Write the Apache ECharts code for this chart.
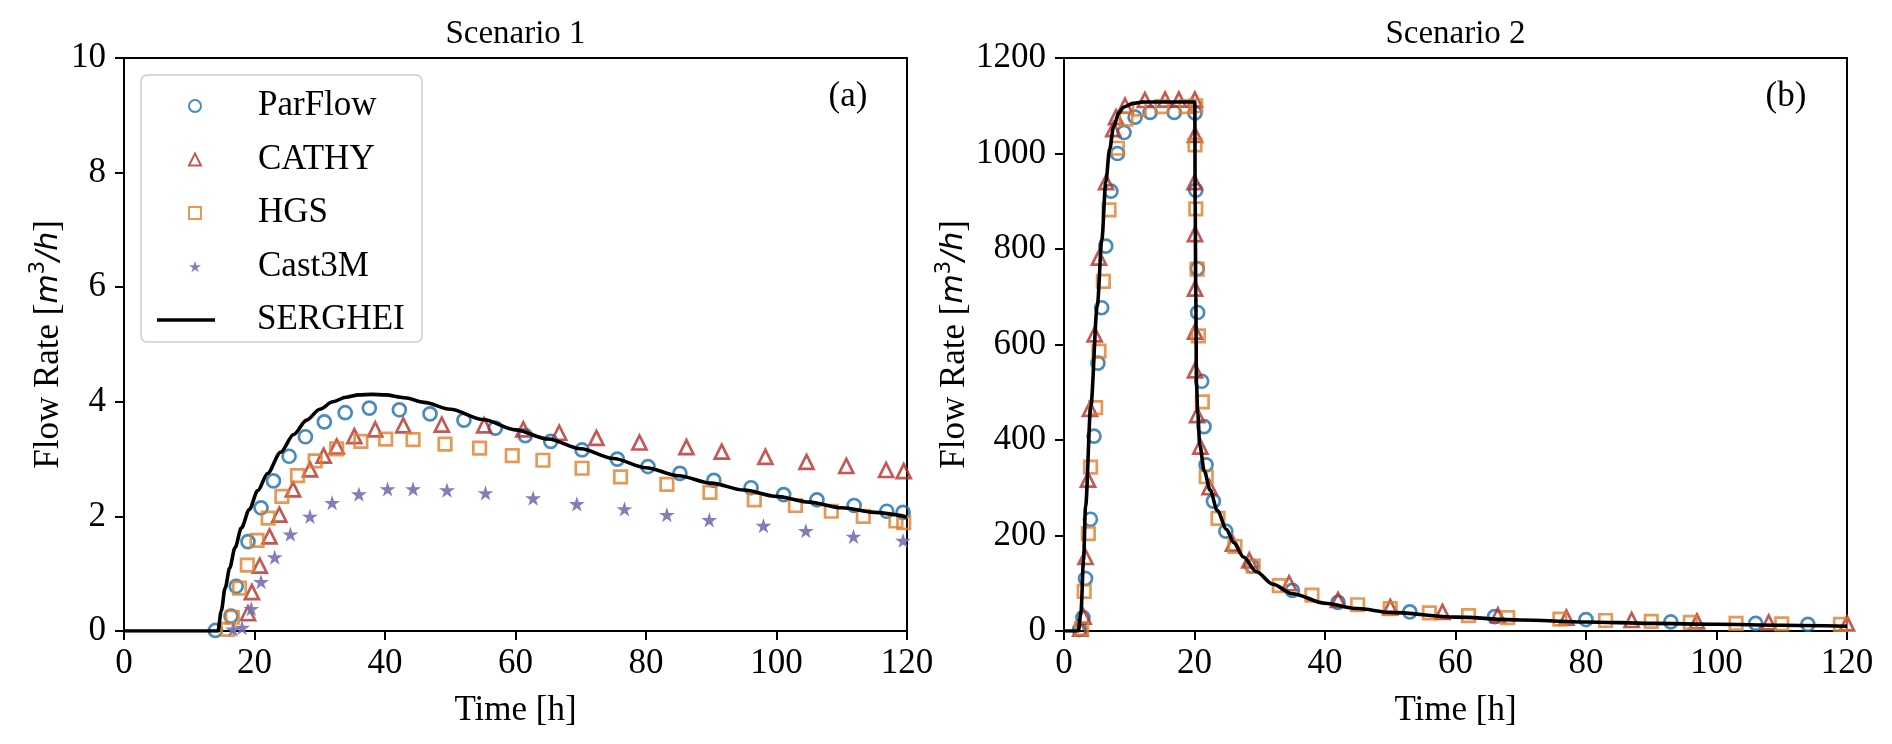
<!DOCTYPE html>
<html>
<head>
<meta charset="utf-8">
<script src="https://cdn.jsdelivr.net/npm/echarts@6/dist/echarts.min.js"></script>
<style>
html,body{margin:0;padding:0;background:#fff;}
#chart{width:1892px;height:744px;}
</style>
</head>
<body>
<div id="chart"></div>
<script>
// ---------- Scenario 1 (left) ----------
const s1ParFlow = [[14.0,0.01],[16.4,0.26],[17.2,0.78],[19.0,1.56],[21.0,2.15],[22.9,2.62],[25.3,3.05],[27.8,3.39],[30.7,3.65],[33.9,3.81],[37.6,3.89],[42.2,3.86],[46.9,3.79],[52.1,3.68],[56.9,3.54],[61.5,3.41],[65.4,3.31],[70.2,3.16],[75.6,3.0],[80.3,2.87],[85.2,2.75],[90.4,2.63],[96.1,2.50],[101.1,2.38],[106.2,2.29],[111.9,2.19],[116.9,2.09],[119.4,2.07]];
const s1CATHY = [[19.0,0.31],[19.6,0.68],[20.8,1.14],[22.3,1.65],[23.8,2.03],[25.9,2.47],[28.5,2.82],[30.6,3.06],[32.6,3.22],[35.3,3.40],[38.5,3.52],[42.8,3.59],[48.7,3.60],[55.2,3.59],[61.2,3.52],[66.7,3.46],[72.4,3.37],[79.0,3.29],[86.2,3.21],[91.6,3.13],[98.3,3.04],[104.6,2.95],[110.7,2.88],[116.8,2.81],[119.5,2.79]];
const s1HGS = [[15.9,0.03],[16.6,0.24],[17.7,0.75],[18.9,1.15],[20.4,1.58],[22.1,1.97],[24.2,2.35],[26.6,2.71],[29.3,2.97],[32.6,3.18],[36.3,3.31],[40.1,3.35],[44.3,3.34],[49.2,3.26],[54.5,3.19],[59.5,3.06],[64.2,2.98],[70.2,2.84],[76.1,2.69],[83.2,2.56],[89.8,2.42],[96.6,2.29],[102.9,2.19],[108.4,2.09],[113.3,2.0],[118.3,1.92],[119.5,1.89]];
const s1Cast3M = [[16.7,0.03],[18.1,0.06],[19.5,0.39],[21.0,0.86],[23.1,1.29],[25.5,1.69],[28.5,2.0],[31.9,2.24],[36.0,2.39],[40.4,2.48],[44.3,2.48],[49.5,2.46],[55.4,2.41],[62.7,2.32],[69.4,2.22],[76.7,2.13],[83.2,2.03],[89.7,1.94],[98.0,1.84],[104.5,1.75],[111.8,1.65],[119.4,1.58]];
const s1SERGHEI = [[0,0],[14.4,0],[14.9,0.35],[15.5,0.75],[16.2,1.1],[17.0,1.45],[18.0,1.8],[19.2,2.12],[20.5,2.45],[22,2.75],[24,3.12],[26,3.43],[28,3.68],[30,3.87],[32,4.0],[34,4.08],[36,4.12],[38,4.13],[40,4.12],[43,4.07],[46,3.99],[50,3.87],[55,3.69],[60,3.51],[65,3.35],[70,3.18],[75,3.01],[80,2.85],[85,2.71],[90,2.58],[95,2.46],[100,2.35],[105,2.25],[110,2.15],[115,2.07],[120,1.99]];

// ---------- Scenario 2 (right) ----------
const s2ParFlow = [[2.4,3],[2.9,28],[3.3,110],[4.05,234],[4.6,408],[5.2,561],[5.77,677],[6.4,806],[7.2,921],[8.2,1000],[9.2,1044],[10.9,1076],[13.2,1086],[16.9,1086],[20.08,1085],[20.2,923],[20.43,759],[20.48,667],[21.1,523],[21.46,428],[21.77,348],[22.9,272],[24.8,209],[28.8,136],[35,85],[42,60],[53,40],[66,30],[80,24],[93,19],[106,16],[114,14]];
const s2CATHY = [[2.5,5],[3.0,30],[3.3,155],[3.68,317],[3.98,465],[4.7,621],[5.36,782],[6.45,940],[7.56,1051],[7.97,1076],[9.35,1100],[12.4,1112],[15.5,1113],[17.6,1113],[20.05,1113],[20.08,1039],[20.0,940],[20.08,831],[20.08,717],[20.08,627],[20.08,546],[20.4,452],[20.9,386],[22.3,301],[25.9,183],[28.4,148],[34.5,100],[42,65],[50,50],[58,40],[66.5,33],[77,28],[87,23],[97,20],[108,18],[120,16]];
const s2HGS = [[2.7,5],[3.1,83],[3.73,204],[4.07,343],[4.85,468],[5.36,586],[6.03,732],[6.9,882],[8.18,1011],[9.5,1072],[11.55,1093],[15,1098],[18.7,1098],[20.2,1100],[20.08,1018],[20.2,884],[20.4,758],[20.6,618],[21.2,480],[21.8,323],[23.6,236],[26.2,177],[29,136],[33,95],[38,75],[45,55],[50,47],[56,38],[62,32],[68,28],[76,25],[83,22],[90,20],[96,18],[103,16],[110,15],[119,14]];
const s2SERGHEI = [[0,0],[2.2,0],[2.6,40],[3.0,150],[3.3,260],[4.1,470],[5.1,681],[5.8,820],[6.4,940],[7.0,1010],[7.6,1056],[8.4,1085],[9.1,1097],[10.6,1105],[12,1108],[20.05,1108],[20.1,900],[20.2,700],[20.3,520],[20.5,456],[20.8,390],[21.5,335],[22.4,295],[23.5,252],[24.9,213],[26,185],[27.5,155],[29.5,124],[32,98],[35,78],[40,58],[45,47],[50,39],[60,29],[70,23],[80,19],[90,16],[100,14],[110,12],[120,10]];

const xTicks = {min:0, max:120, interval:20};
const yTicks1 = {min:0, max:10, interval:2};
const yTicks2 = {min:0, max:1200, interval:200};

const markerNames = ['ParFlow','CATHY','HGS','Cast3M'];
const lineNames = ['SERGHEI'];
const colors = {ParFlow:'#1a6eab', CATHY:'#b3302a', HGS:'#df7f2a', Cast3M:'#7570b3', SERGHEI:'#000000'};
const STAR = 'path://M50,0 L61,35 L98,35 L68,57 L79,91 L50,70 L21,91 L32,57 L2,35 L39,35 Z';

const SERIF = 'Liberation Serif';
const FS = 35;

function hollow(name, symbol, size, data, gi){
  return {
    name, type:'scatter', xAxisIndex:gi, yAxisIndex:gi, data,
    symbol, symbolSize:size, symbolKeepAspect:true, clip:true,
    itemStyle:{color:'rgba(255,255,255,0)', borderColor:colors[name], borderWidth:2.7},
    emphasis:{disabled:true}, z:3
  };
}
function starSeries(data, gi){
  return {
    name:'Cast3M', type:'scatter', xAxisIndex:gi, yAxisIndex:gi, data,
    symbol:STAR, symbolSize:16, symbolKeepAspect:true, clip:true,
    itemStyle:{color:colors.Cast3M, opacity:0.9},
    emphasis:{disabled:true}, z:3
  };
}
function lineSeries(data, gi){
  return {
    name:'SERGHEI', type:'line', xAxisIndex:gi, yAxisIndex:gi, data,
    symbol:'none', smooth:0.3, smoothMonotone:'x', clip:true,
    lineStyle:{color:'#000', width:3.6},
    itemStyle:{color:'#000'},
    emphasis:{disabled:true}, z:4
  };
}

const axisLabelStyle = {fontFamily:SERIF, fontSize:FS, color:'#000'};
function xAxis(gi){
  return {
    type:'value', gridIndex:gi, min:xTicks.min, max:xTicks.max, interval:xTicks.interval,
    name:'Time [h]', nameLocation:'middle', nameGap:62,
    nameTextStyle:{fontFamily:SERIF, fontSize:FS, color:'#000'},
    axisLine:{show:true, onZero:false, lineStyle:{color:'#000', width:2}},
    axisTick:{show:true, inside:false, length:9, lineStyle:{color:'#000', width:2}},
    axisLabel:{...axisLabelStyle, margin:15, formatter:v => String(v)},
    splitLine:{show:false}
  };
}
const yName = '{r|Flow Rate [}{i|m}{s|3}{i|/h}{r|]}';
function yAxis(gi, t){
  return {
    type:'value', gridIndex:gi, min:t.min, max:t.max, interval:t.interval,
    name:yName, nameLocation:'middle', nameGap: gi===0 ? 54 : 50,
    nameTextStyle:{
      color:'#000',
      rich:{
        r:{fontFamily:SERIF, fontSize:FS, color:'#000', lineHeight:42},
        i:{fontFamily:'DejaVu Sans', fontStyle:'italic', fontSize:30, color:'#000', lineHeight:42},
        s:{fontFamily:'DejaVu Sans', fontSize:21, color:'#000', lineHeight:42, verticalAlign:'top', padding:[0,0,15,0]}
      }
    },
    axisLine:{show:true, lineStyle:{color:'#000', width:2}},
    axisTick:{show:true, inside:false, length:9, lineStyle:{color:'#000', width:2}},
    axisLabel:{...axisLabelStyle, margin:18, formatter:v => String(v)},
    splitLine:{show:false}
  };
}

const legendText = {fontFamily:SERIF, fontSize:FS, color:'#000', lineHeight:36};

const chart = echarts.init(document.getElementById('chart'), null, {renderer:'canvas'});
chart.setOption({
  backgroundColor:'#fff',
  animation:false,
  grid:[
    {left:124, top:58, width:783, height:573, show:true, borderColor:'#000', borderWidth:2, backgroundColor:'rgba(0,0,0,0)'},
    {left:1064, top:58, width:783, height:573, show:true, borderColor:'#000', borderWidth:2, backgroundColor:'rgba(0,0,0,0)'}
  ],
  xAxis:[xAxis(0), xAxis(1)],
  yAxis:[yAxis(0, yTicks1), yAxis(1, yTicks2)],
  legend:[
    {
      data:markerNames,
      orient:'vertical', left:188, top:88, padding:0,
      itemWidth:12, itemHeight:12, itemGap:17.5,
      textStyle:{...legendText, padding:[0,0,0,52]},
      selectedMode:false, z:8
    },
    {
      data:lineNames.map(n => ({name:n, icon:'rect'})),
      orient:'vertical', left:157, top:302, padding:0,
      itemWidth:58, itemHeight:3.6, itemGap:17.5,
      textStyle:{...legendText, padding:[0,0,0,37]},
      selectedMode:false, z:8
    }
  ],
  graphic:[
    {type:'rect', z:7, shape:{x:141, y:75, width:281, height:267, r:6}, style:{fill:'rgba(255,255,255,0.85)', stroke:'#cccccc', lineWidth:1.5}},
    {type:'text', x:515.5, y:34, style:{text:'Scenario 1', fontFamily:SERIF, fontSize:33, fill:'#000', textAlign:'center', textVerticalAlign:'middle'}},
    {type:'text', x:1455.5, y:34, style:{text:'Scenario 2', fontFamily:SERIF, fontSize:33, fill:'#000', textAlign:'center', textVerticalAlign:'middle'}},
    {type:'text', x:848, y:97, style:{text:'(a)', fontFamily:SERIF, fontSize:FS, fill:'#000', textAlign:'center', textVerticalAlign:'middle'}},
    {type:'text', x:1786, y:97, style:{text:'(b)', fontFamily:SERIF, fontSize:FS, fill:'#000', textAlign:'center', textVerticalAlign:'middle'}}
  ],
  series:[
    hollow('ParFlow','circle',13,s1ParFlow,0),
    hollow('CATHY','triangle',14,s1CATHY,0),
    hollow('HGS','rect',12.5,s1HGS,0),
    starSeries(s1Cast3M,0),
    lineSeries(s1SERGHEI,0),
    hollow('ParFlow','circle',13,s2ParFlow,1),
    hollow('CATHY','triangle',14,s2CATHY,1),
    hollow('HGS','rect',12.5,s2HGS,1),
    lineSeries(s2SERGHEI,1)
  ]
});
</script>
</body>
</html>
